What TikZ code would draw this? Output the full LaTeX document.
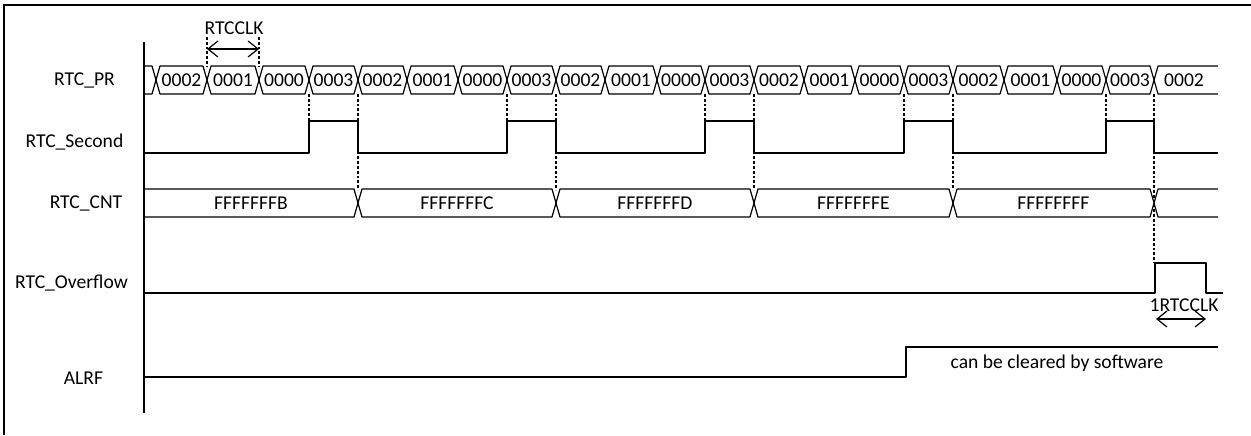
\documentclass[tikz,border=0pt]{standalone}
\usepackage{fontspec}
\setmainfont{Carlito}
\usetikzlibrary{arrows.meta}
\newcommand{\sigfont}{\fontsize{9.8}{11}\selectfont}
\begin{document}
\begin{tikzpicture}[x=0.5pt, y=-0.5pt,
    wave/.style={line width=0.6pt, line join=round},
    guide/.style={line width=0.75pt, dash pattern=on 1.4pt off 1pt},
    span/.style={line width=0.6pt, {Straight Barb[length=5pt,width=8pt]}-{Straight Barb[length=5pt,width=8pt]}},
    sig/.style={font=\sigfont, inner sep=0pt},
    val/.style={font=\sigfont, inner sep=0pt}]
    \useasboundingbox (0,0) rectangle (1251,435);

    % 1. Khung va truc doc
    \draw[line width=0.6pt] (4,435) -- (4,5) -- (1251,5);
    \draw[line width=0.8pt] (144,42) -- (144,413);

    % 2. Ten cac tin hieu
    \node[sig] (lblPR) at (84.5,80) {RTC\_PR};
    \node[sig] (lblSec) at (74.5,142) {RTC\_Second};
    \node[sig] (lblCNT) at (86,203) {RTC\_CNT};
    \node[sig] (lblOvf) at (71.5,283) {RTC\_Overflow};
    \node[sig] (lblALRF) at (83.5,378) {ALRF};

    % 3. Bus RTC_PR
    \draw[wave] (144,66) -- (152,66) -- (156,80) -- (152,94) -- (144,94);
    \foreach \a/\b/\v in {156/207/0002, 207/259/0001, 259/309/0000, 309/358/0003,
        358/407/0002, 407/458/0001, 458/507/0000, 507/556/0003,
        556/605/0002, 605/657/0001, 657/705/0000, 705/754/0003,
        754/804/0002, 804/855/0001, 855/904/0000, 904/953/0003,
        953/1004/0002, 1004/1057/0001, 1057/1106/0000, 1106/1154/0003}
    {
        \draw[wave] (\a,80) -- (\a+4,66) -- (\b-4,66) -- (\b,80) -- (\b-4,94) -- (\a+4,94) -- cycle;
        \node[val] (pr\a) at ({(\a+\b)/2},80) {\v};
    }
    \draw[wave] (1218,66) -- (1158,66) -- (1154,80) -- (1158,94) -- (1218,94);
    \node[val] (pr1154) at (1184,80) {0002};

    % 4. RTC_Second
    \draw[wave] (144,153)
        \foreach \r/\f in {309/358, 507/556, 705/754, 904/953, 1106/1154}
        { -- (\r,153) -- (\r,121) -- (\f,121) -- (\f,153) }
        -- (1218,153);

    % 5. Bus RTC_CNT
    \draw[wave] (144,189) -- (354,189) -- (358,203) -- (354,217) -- (144,217);
    \node[val] (cntB) at (251,203) {FFFFFFFB};
    \foreach \a/\b/\v in {358/556/FFFFFFFC, 556/754/FFFFFFFD, 754/953/FFFFFFFE, 953/1154/FFFFFFFF}
    {
        \draw[wave] (\a,203) -- (\a+4,189) -- (\b-4,189) -- (\b,203) -- (\b-4,217) -- (\a+4,217) -- cycle;
        \node[val] (cnt\a) at ({(\a+\b)/2},203) {\v};
    }
    \draw[wave] (1218,189) -- (1158,189) -- (1154,203) -- (1158,217) -- (1218,217);

    % 6. RTC_Overflow
    \draw[wave] (144,293) -- (1155,293) -- (1155,263) -- (1206,263) -- (1206,293) -- (1223,293);
    \coordinate (ovfL) at (1156,319);
    \coordinate (ovfR) at (1206,319);
    \draw[span] (ovfL) -- (ovfR);
    \node[val] (ovfClk) at (1184,305) {1RTCCLK};

    % 7. ALRF
    \draw[wave] (144,377) -- (906,377) -- (906,347) -- (1218,347);
    \node[val] (clr) at (1057,363) {can be cleared by software};

    % 8. RTCCLK o tren
    \coordinate (clkL) at (207,49);
    \coordinate (clkR) at (259,49);
    \draw[guide] (207,37) -- (207,66);
    \draw[guide] (259,37) -- (259,66);
    \draw[span] (clkL) -- (clkR);
    \node[val] (clk) at (234,28) {RTCCLK};

    % 9. Cac duong cham doc
    \foreach \r in {309, 507, 705, 904, 1106}
        \draw[guide] (\r,94) -- (\r,121);
    \foreach \f in {358, 556, 754, 953}
        \draw[guide] (\f,94) -- (\f,190);
    \draw[guide] (1154,94) -- (1154,263);
\end{tikzpicture}
\end{document}
